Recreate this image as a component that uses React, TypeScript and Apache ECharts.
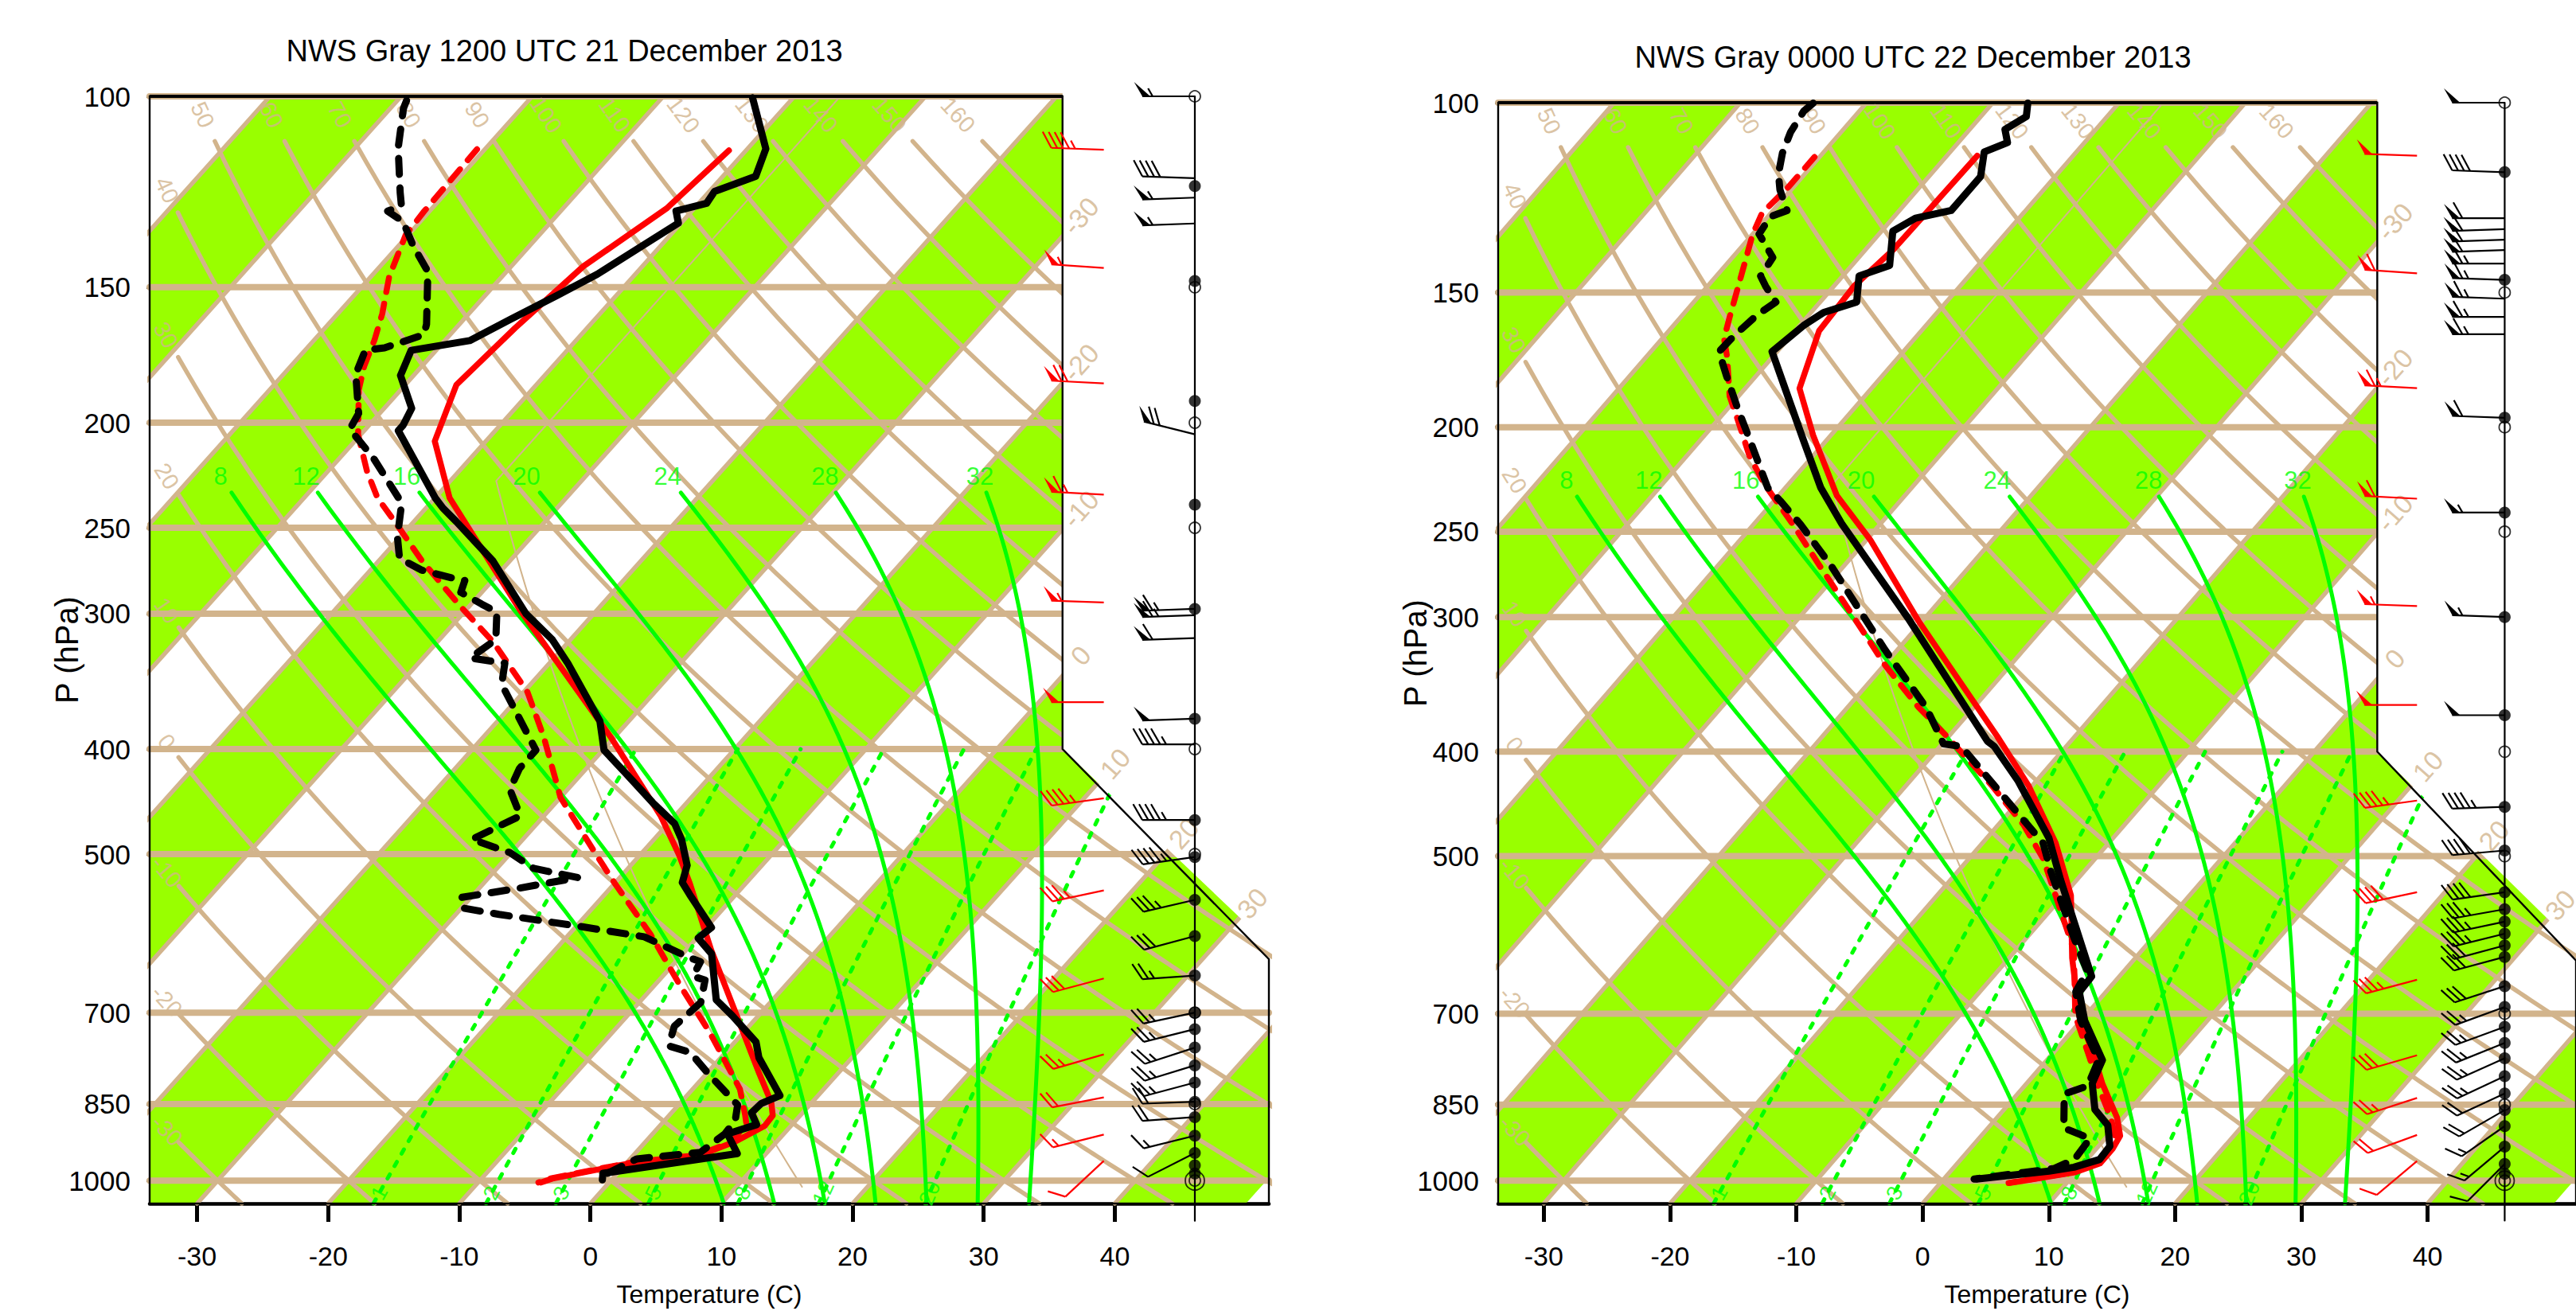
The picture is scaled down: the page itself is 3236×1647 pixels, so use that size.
import React, { useEffect, useRef } from "react";
import * as echarts from "echarts";

// ------------------------------------------------------------------ data
const PANEL_TITLES = ["NWS Gray 1200 UTC 21 December 2013", "NWS Gray 0000 UTC 22 December 2013"];
const PRESSURE_LABELS = [100, 150, 200, 250, 300, 400, 500, 700, 850, 1000];
const TEMP_LABELS = [-30, -20, -10, 0, 10, 20, 30, 40];
const ISOBARS = [100, 150, 200, 250, 300, 400, 500, 700, 850, 1000];
const ISOTHERMS = [-110, -100, -90, -80, -70, -60, -50, -40, -30, -20, -10, 0, 10, 20, 30, 40];
const ISOTHERM_LABELS = [-30, -20, -10, 0, 10, 20, 30];
const GREEN_BAND_STARTS = [-120, -100, -80, -60, -40, -20, 0, 20, 40];
const DRY_ADIABATS = [-30, -20, -10, 0, 10, 20, 30, 40, 50, 60, 70, 80, 90, 100, 110, 120, 130, 140, 150, 160];
const MOIST_ADIABATS = [8, 12, 16, 20, 24, 28, 32];
const MIXING_RATIOS = [1, 2, 3, 5, 8, 12, 20];

// 1200 UTC observed temperature
const obs12TP = [100.3, 111.8, 118.5, 122.4, 125.5, 127.6, 130.9, 145.9, 152.6, 160.4, 168, 171.5, 180.9, 194.0, 201.1, 203.4, 234.6, 239.8, 246.6, 268.2, 299.9, 317.0, 333.3, 376.9, 400.9, 421.5, 448.2, 468.6, 484.5, 512, 531, 544.9, 584.3, 597.5, 617.8, 651.5, 681.3, 704.5, 744.9, 770.3, 835.0, 849.1, 866.0, 888.0, 905.6, 944.3, 984.8, 998.6];
const obs12T = [-63.1, -58.6, -57.5, -59.6, -59.4, -61.2, -60.2, -62.9, -64.5, -66.4, -68.1, -71.9, -71.0, -67.9, -67.4, -67.4, -60.0, -58.7, -56.8, -51.3, -45.2, -41.4, -38.6, -32.2, -29.9, -26.6, -22.6, -19.5, -17.9, -15.7, -14.9, -13.5, -9.6, -9.9, -7.8, -5.9, -4.3, -2.0, 1.6, 2.9, 7.1, 6.2, 6.1, 7.3, 5.7, 7.8, -1.1, -0.7];
// 1200 UTC observed dewpoint
const obs12TdP = [100.9, 102.6, 111.6, 122.7, 126.2, 127.6, 130.5, 137.3, 145.1, 162.3, 165.9, 170.6, 171.5, 174.4, 180.4, 196.1, 202.8, 207.4, 215.7, 234.6, 237.2, 255.0, 266.7, 273.5, 278.0, 279.6, 286.7, 294.0, 299.0, 317.0, 329.6, 333.3, 348.6, 400.9, 416.8, 435.8, 460.9, 484.5, 498.3, 515.3, 525.5, 537.3, 548.0, 560.3, 568.2, 582.7, 595.9, 623.0, 628.3, 647.9, 653.4, 685.1, 720.3, 751.2, 761.7, 796.5, 837.4, 851.5, 880.9, 905.6, 941.9, 955.0, 990.2];
const obs12Td = [-89.3, -89.0, -86.7, -83.5, -82.5, -83.2, -81.3, -78.9, -76.0, -72.5, -72.0, -74.1, -75.4, -75.1, -74.5, -71.6, -71.2, -69.8, -67.4, -62.8, -62.2, -60.2, -58.6, -56.1, -53.3, -52.1, -51.6, -49.2, -47.5, -45.7, -46.4, -43.4, -42.2, -35.1, -35.1, -34.4, -31.8, -33.9, -30.1, -27.2, -23.2, -26.9, -30.7, -30.0, -26.7, -19.8, -14.1, -9.2, -8.1, -7.7, -6.5, -5.3, -5.7, -4.8, -2.7, 0.1, 3.4, 4.5, 5.4, 5.5, 4.9, 0.5, -1.0];
// 1200 UTC model temperature / dewpoint
const mod12TP = [112.2, 126.9, 143.5, 163.6, 184.5, 208.0, 234.6, 298.1, 389.8, 460.9, 501.1, 532.8, 612.7, 796.5, 847.1, 870.9, 890.5, 920.8, 947.0, 963.0, 995.7, 1004.1];
const mod12T = [-61.3, -62.1, -64.5, -65.5, -66.1, -63.9, -58.9, -45.8, -30.3, -21.1, -17.0, -14.2, -8.1, 4.0, 6.9, 7.9, 8.0, 6.8, 5.1, 0.4, -4.6, -5.2];
const mod12TdP = [111.9, 127.6, 134.2, 146.7, 158.7, 167.8, 177.4, 186.5, 205.1, 221.8, 234.6, 245.3, 268.2, 294.8, 318.8, 354.4, 389.8, 443.2, 501.1, 532.8, 592.6, 658.8, 732.5, 823.5, 870.9, 885.1, 920.8, 947.0, 963.0, 995.7, 1004.1];
const mod12Td = [-80.6, -80.4, -80.2, -78.6, -76.6, -75.4, -74.4, -73.2, -70.2, -67.0, -64.4, -61.8, -56.7, -50.8, -45.7, -39.7, -35.4, -30.0, -23.3, -19.9, -13.8, -8.2, -2.4, 3.6, 5.8, 6.4, 6.6, 4.9, 0.2, -4.8, -5.4];

// 0000 UTC observed temperature / dewpoint
const obs00TP = [100.1, 103.0, 105.9, 108.9, 111.1, 117.1, 125.9, 128.0, 131.6, 141.6, 144.8, 153.1, 156.5, 161.0, 170.2, 205.8, 227.6, 246.1, 300.9, 391.1, 395.5, 425.3, 480.8, 525.8, 646.4, 668.4, 710.7, 772.9, 812.6, 859.0, 888.4, 929.0, 955.6, 971.7, 979.8, 996.4];
const obs00T = [-67.2, -66.4, -67.2, -66.1, -67.3, -65.9, -65.9, -68.2, -69.1, -67.0, -68.7, -67.1, -69.0, -69.7, -70.4, -61.8, -57.2, -53.0, -41.3, -26.6, -25.7, -21.5, -15.1, -11.3, -2.2, -2.1, 0.3, 4.4, 5.2, 7.2, 9.3, 10.9, 11.0, 9.5, 7.8, 2.6];
const obs00TdP = [100.1, 101.8, 106.5, 111.4, 116.4, 120.4, 125.9, 127.6, 132.4, 139.2, 144.8, 148.0, 153.1, 157.4, 164.6, 170.2, 179.0, 191.4, 208.2, 227.6, 234.1, 246.1, 269.0, 321.7, 363.7, 393.3, 395.5, 430.0, 486.2, 517.0, 594.6, 639.3, 668, 711, 773, 817.1, 830.9, 893.5, 913.7, 955.6, 974.3, 996.4];
const obs00Td = [-84.2, -84.4, -84.0, -83.2, -82.1, -80.9, -78.9, -79.8, -79.5, -76.8, -76.5, -75.4, -73.5, -74.1, -74.5, -74.6, -72.4, -69.4, -65.5, -61.4, -59.5, -56.3, -51.0, -41.0, -33.8, -29.9, -28.3, -23.0, -15.2, -12.6, -6.3, -2.9, -2.4, 0.0, 4.1, 5.0, 3.7, 6.0, 8.8, 9.0, 8.0, 2.4];
// 0000 UTC model temperature / dewpoint
const mod00TP = [112.0, 124.5, 136.9, 148.0, 162.8, 184.1, 203.5, 231.4, 254.4, 302.6, 386.8, 430.0, 486.2, 543.7, 621.6, 702.9, 768.6, 812.6, 873.8, 908.6, 934.4, 963.6, 982.5, 1004.8];
const mod00T = [-67.6, -67.7, -67.8, -68.4, -68.1, -65.7, -61.4, -55.4, -49.7, -40.3, -26.2, -20.3, -14.2, -9.4, -5.0, -0.5, 3.6, 6.0, 9.5, 11.0, 11.3, 11.3, 9.9, 5.5];
const mod00TdP = [112.3, 119.7, 126.6, 132.4, 146.4, 158.3, 165.5, 172.1, 187.2, 195.7, 212.8, 226.3, 246.1, 267.6, 295.9, 332.6, 363.7, 386.8, 430.0, 467.6, 502.8, 611.3, 702.9, 768.6, 812.6, 873.8, 908.6, 934.4, 963.6, 982.5, 1004.8];
const mod00Td = [-80.4, -80.4, -80.7, -80.0, -77.8, -76.1, -75.1, -73.6, -70.7, -68.7, -65.0, -61.8, -56.9, -52.2, -46.5, -39.9, -34.4, -30.2, -23.2, -18.0, -14.1, -5.4, -0.8, 3.2, 5.6, 9.0, 10.6, 11.0, 11.0, 9.7, 5.4];

// winds (pressure hPa, direction deg, speed kt)
const obs12WindP = [100, 119, 124, 131, 205, 297, 301, 316, 375, 396, 465, 503, 551, 595, 647, 700, 725, 754, 783, 812, 846, 874, 909, 943];
const obs12WindDir = [270, 272, 268, 268, 284, 268, 268, 268, 268, 270, 270, 262, 257, 255, 266, 258, 256, 252, 253, 255, 268, 266, 256, 243];
const obs12WindSpd = [55, 40, 55, 55, 70, 65, 65, 60, 50, 45, 45, 45, 35, 30, 25, 25, 25, 25, 25, 25, 20, 20, 15, 10];
const obs12DotP = [121, 148, 191, 238, 297, 375, 465, 503, 551, 595, 647, 700, 725, 754, 783, 812, 846, 874, 909, 943, 968, 985];
const mod12WindP = [112, 144, 184, 233, 293, 362, 444, 540, 651, 765, 838, 907, 959];
const mod12WindDir = [272, 274, 273, 273, 272, 270, 262, 258, 255, 254, 259, 256, 227];
const mod12WindSpd = [45, 55, 70, 65, 55, 50, 45, 35, 30, 25, 20, 15, 10];

const obs00WindP = [100, 116, 128, 131, 134, 137, 141, 146, 152, 158, 164, 196, 240, 300, 370, 450, 494, 540, 560, 575, 590, 605, 620, 660, 690, 720, 745, 770, 800, 830, 860, 890, 930, 965];
const obs00WindDir = [270, 272, 270, 268, 268, 268, 270, 272, 272, 270, 270, 272, 270, 272, 270, 268, 265, 262, 260, 258, 256, 255, 255, 252, 250, 250, 248, 246, 245, 245, 240, 235, 230, 225];
const obs00WindSpd = [50, 40, 60, 60, 60, 60, 65, 65, 65, 65, 65, 60, 55, 55, 50, 45, 40, 40, 35, 35, 35, 30, 30, 30, 25, 25, 25, 25, 25, 20, 20, 15, 15, 10];
const obs00DotP = [116, 146, 196, 240, 300, 370, 450, 494, 540, 560, 575, 590, 605, 620, 660, 690, 720, 745, 770, 800, 830, 860, 890, 930, 965, 985];
const mod00WindP = [112, 144, 184, 233, 293, 362, 444, 540, 651, 765, 838, 907, 959];
const mod00WindDir = [272, 274, 273, 273, 272, 270, 262, 258, 255, 254, 252, 250, 230];
const mod00WindSpd = [50, 60, 65, 60, 55, 50, 45, 40, 35, 30, 25, 20, 10];
const MANDATORY_P = [100, 150, 200, 250, 400, 500, 700, 850, 1000];

// ------------------------------------------------------------------ skew-T geometry
const FONT = "'Liberation Sans', Arial, Helvetica, sans-serif";
const TAN = "#d2b48c";
const FILL = "#99ff00";
const LIME = "#00ff00";
const skewY = (p: number) => 132.182 - 44.061 * Math.log10(p);
const skewX = (t: number, y: number) => 0.54 * t + 0.90692 * y;
const YMIN = skewY(1050);
const YMAX = skewY(100);
const XMIN = -19.0;
const XMAX = 27.1;
const CUT_X = 18.6;
const CUT_YTOP = skewY(400);
const CUT_YBOT = 9.0;
const GRID_W = 1406;
const GRID_H = 1404;
const PPX = GRID_W / (XMAX - XMIN);
const PPY = GRID_H / (YMAX - YMIN);
const STAFF_X = 24.05;
const MODEL_BARB_X = 20.3;

const pt = (t: number, p: number) => {
  const y = skewY(p);
  return [skewX(t, y), y];
};

function esat(tc: number) {
  return 6.112 * Math.exp((17.67 * tc) / (tc + 243.5));
}
function tdFromE(e: number) {
  const l = Math.log(e / 6.112);
  return (243.5 * l) / (17.67 - l);
}
function moistLapse(tK: number, p: number) {
  const Rd = 287.04, cp = 1005.7, Lv = 2.501e6, eps = 0.622;
  const e = esat(tK - 273.15);
  const rs = (eps * e) / (p - e);
  const num = (Rd * tK + Lv * rs) / p;
  const den = cp + (Lv * Lv * rs * eps) / (Rd * tK * tK);
  return num / den;
}
function integrateMoist(thetaW: number, pEnd: number) {
  const out: number[][] = [];
  let t = thetaW + 273.15;
  let p = 1000;
  const dir = pEnd < 1000 ? -1 : 1;
  while (dir < 0 ? p > pEnd + 1e-6 : p < pEnd - 1e-6) {
    const step = dir < 0 ? Math.max(-4, pEnd - p) : Math.min(4, pEnd - p);
    const k1 = moistLapse(t, p);
    const k2 = moistLapse(t + k1 * step, p + step);
    t += 0.5 * (k1 + k2) * step;
    p += step;
    out.push([p, t - 273.15]);
  }
  return out;
}
// ICAO standard atmosphere (thin reference curve)
function standardAtmosphere() {
  const out: number[][] = [];
  for (let p = 1013.25; p >= 100; p -= p > 240 ? 10 : 20) {
    const tK = p > 226.32 ? 288.15 * Math.pow(p / 1013.25, 0.190263) : 216.65;
    out.push(pt(tK - 273.15, p));
  }
  out.push(pt(216.65 - 273.15, 226.32));
  out.sort((a, b) => a[1] - b[1]);
  out.push(pt(216.65 - 273.15, 100));
  return out;
}

function clipPolyRect(pts: number[][], x0: number, x1: number, y0: number, y1: number) {
  const clipEdge = (poly: number[][], inside: (q: number[]) => boolean, inter: (a: number[], b: number[]) => number[]) => {
    const out: number[][] = [];
    for (let i = 0; i < poly.length; i++) {
      const a = poly[i], b = poly[(i + 1) % poly.length];
      const ia = inside(a), ib = inside(b);
      if (ia && ib) out.push(b);
      else if (ia && !ib) out.push(inter(a, b));
      else if (!ia && ib) { out.push(inter(a, b)); out.push(b); }
    }
    return out;
  };
  const ix = (x: number) => (a: number[], b: number[]) => { const t = (x - a[0]) / (b[0] - a[0]); return [x, a[1] + t * (b[1] - a[1])]; };
  const iy = (y: number) => (a: number[], b: number[]) => { const t = (y - a[1]) / (b[1] - a[1]); return [a[0] + t * (b[0] - a[0]), y]; };
  let p = pts;
  p = clipEdge(p, (q) => q[0] >= x0, ix(x0)); if (!p.length) return p;
  p = clipEdge(p, (q) => q[0] <= x1, ix(x1)); if (!p.length) return p;
  p = clipEdge(p, (q) => q[1] >= y0, iy(y0)); if (!p.length) return p;
  p = clipEdge(p, (q) => q[1] <= y1, iy(y1));
  return p;
}

const screenAngle = (a: number[], b: number[]) => {
  const dx = (b[0] - a[0]) * PPX;
  const dy = (b[1] - a[1]) * PPY;
  return (Math.atan2(dy, dx) * 180) / Math.PI;
};

function dryAdiabat(theta: number) {
  const th = theta + 273.15;
  const line: number[][] = [];
  let label: any = null;
  let ended = false;
  for (let p = 1050; p >= 100; p -= 1) {
    const t = th * Math.pow(p / 1000, 0.2857) - 273.15;
    const [x, y] = pt(t, p);
    if (!ended) {
      if (p <= 110 || x <= XMIN + 1.2) { ended = true; line.push([x, y]); }
      else if (p % 5 === 0) line.push([x, y]);
    }
    if (p <= 104 || x <= XMIN + 0.72) {
      const t2 = th * Math.pow((p + 6) / 1000, 0.2857) - 273.15;
      const b = pt(t2, p + 6);
      label = { x, y, rot: screenAngle([x, y], b) };
      break;
    }
  }
  return { line, label };
}

function moistAdiabat(tw: number) {
  const up = integrateMoist(tw, 224);
  const down = integrateMoist(tw, 1050);
  const all = [...down.reverse(), [1000, tw], ...up.filter((q) => q[0] >= 230 - 1e-6)];
  const line = all.map((q) => pt(q[1], q[0]));
  const top = up[up.length - 1];
  const lp = pt(top[1], top[0]);
  return { line, label: { x: lp[0], y: lp[1] } };
}

function mixingLine(w: number) {
  const line: number[][] = [];
  for (let p = 1050; p >= 400; p -= 10) {
    const e = (w * p) / (622 + w);
    line.push(pt(tdFromE(e), p));
  }
  const pl = 1027;
  const a = pt(tdFromE((w * pl) / (622 + w)), pl);
  const b = pt(tdFromE((w * (pl - 20)) / (622 + w)), pl - 20);
  return { line, label: { x: a[0], y: a[1], rot: screenAngle(a, b) } };
}

function isothermLabel(t: number) {
  let y = (CUT_X - 0.54 * t) / 0.90692;
  if (y > YMAX) return null;
  if (y < CUT_YTOP) {
    const k = (XMAX - CUT_X) / (CUT_YTOP - CUT_YBOT);
    y = (CUT_X + k * CUT_YTOP - 0.54 * t) / (0.90692 + k);
    if (y < CUT_YBOT) return null;
  }
  const x = skewX(t, y) + 0.75;
  const yy = y + 0.75 / 0.90692;
  return { x, y: yy, rot: screenAngle([0, 0], [0.90692, 1]) };
}

function barbChildren(sx: number, sy: number, dir: number, spd: number, color: string) {
  const L = 66, FL = 23, SP = 7.5, PW = 10;
  const r = (dir * Math.PI) / 180;
  const ux = Math.sin(r), uy = -Math.cos(r);
  const c = Math.cos(Math.PI / 3), s = Math.sin(Math.PI / 3);
  const fx = ux * c - uy * s, fy = ux * s + uy * c;
  const tx = sx + ux * L, ty = sy + uy * L;
  const ch: any[] = [{ type: "line", shape: { x1: sx, y1: sy, x2: tx, y2: ty }, style: { stroke: color, lineWidth: 2.2 } }];
  let v = Math.round(spd / 5) * 5;
  let pos = 0;
  while (v >= 50) {
    const ax = tx - ux * pos, ay = ty - uy * pos;
    const bx = tx - ux * (pos + PW), by = ty - uy * (pos + PW);
    ch.push({ type: "polygon", shape: { points: [[ax, ay], [bx, by], [ax + fx * FL * 0.9, ay + fy * FL * 0.9]] }, style: { fill: color } });
    pos += PW + 3;
    v -= 50;
  }
  while (v >= 10) {
    const ax = tx - ux * pos, ay = ty - uy * pos;
    ch.push({ type: "line", shape: { x1: ax, y1: ay, x2: ax + fx * FL, y2: ay + fy * FL }, style: { stroke: color, lineWidth: 2.2 } });
    pos += SP;
    v -= 10;
  }
  if (v >= 5) {
    if (pos === 0) pos = SP;
    const ax = tx - ux * pos, ay = ty - uy * pos;
    ch.push({ type: "line", shape: { x1: ax, y1: ay, x2: ax + fx * FL * 0.5, y2: ay + fy * FL * 0.5 }, style: { stroke: color, lineWidth: 2.2 } });
  }
  return ch;
}

// ------------------------------------------------------------------ series
function lineSeries(gi: number, data: number[][], color: string, width: number, z: number, dash?: number[] | string, clip = true) {
  return {
    type: "line", xAxisIndex: gi, yAxisIndex: gi, data, showSymbol: false, symbol: "none", silent: true,
    lineStyle: { color, width, type: dash || "solid", cap: "round", join: "round" },
    z, clip, animation: false,
  };
}
function labelSeries(gi: number, items: any[], color: string, fontSize: number, z = 6) {
  return {
    type: "scatter", xAxisIndex: gi, yAxisIndex: gi, symbol: "circle", symbolSize: 1, silent: true, clip: false, z,
    itemStyle: { color: "rgba(0,0,0,0)" },
    data: items.map((it) => ({
      value: [it.x, it.y],
      label: { show: true, position: "inside", formatter: it.text, rotate: it.rot || 0, color, fontSize, fontFamily: FONT, align: "center", verticalAlign: "middle" },
    })),
  };
}
const profile = (P: number[], T: number[]) => P.map((p, k) => pt(T[k], p));

function panelSeries(gi: number, d: any) {
  const s: any[] = [];
  s.push({
    type: "custom", xAxisIndex: gi, yAxisIndex: gi, silent: true, z: 1, clip: false,
    data: GREEN_BAND_STARTS.map((t) => [t, 0]),
    renderItem: (params: any, api: any) => {
      const t = api.value(0);
      const poly = clipPolyRect(
        [[skewX(t, YMIN), YMIN], [skewX(t + 10, YMIN), YMIN], [skewX(t + 10, YMAX), YMAX], [skewX(t, YMAX), YMAX]],
        XMIN, XMAX, YMIN, YMAX
      );
      if (poly.length < 3) return null;
      return { type: "polygon", shape: { points: poly.map((q) => api.coord(q)) }, style: { fill: FILL } };
    },
  });
  ISOBARS.forEach((p) => s.push(lineSeries(gi, [[XMIN, skewY(p)], [XMAX, skewY(p)]], TAN, 8, 2)));
  ISOTHERMS.forEach((t) => s.push(lineSeries(gi, [[skewX(t, YMIN), YMIN], [skewX(t, YMAX), YMAX]], TAN, 5.5, 2)));
  const dryLabels: any[] = [];
  DRY_ADIABATS.forEach((th) => {
    const a = dryAdiabat(th);
    s.push(lineSeries(gi, a.line, TAN, 5.5, 2));
    if (a.label) dryLabels.push({ ...a.label, text: String(th) });
  });
  s.push(lineSeries(gi, standardAtmosphere(), TAN, 2, 2));
  const moistLabels: any[] = [];
  MOIST_ADIABATS.forEach((tw) => {
    const a = moistAdiabat(tw);
    s.push(lineSeries(gi, a.line, LIME, 5, 2));
    moistLabels.push({ ...a.label, text: String(tw) });
  });
  const mixLabels: any[] = [];
  MIXING_RATIOS.forEach((w) => {
    const a = mixingLine(w);
    s.push(lineSeries(gi, a.line, LIME, 5, 2, [6, 12]));
    mixLabels.push({ ...a.label, text: String(w) });
  });
  s.push({
    type: "custom", xAxisIndex: gi, yAxisIndex: gi, silent: true, z: 3, clip: false, data: [[0, 0]],
    renderItem: (params: any, api: any) => ({
      type: "polygon",
      shape: { points: [[CUT_X, YMAX + 0.4], [XMAX + 0.6, YMAX + 0.4], [XMAX + 0.6, CUT_YBOT], [CUT_X, CUT_YTOP]].map((q) => api.coord(q)) },
      style: { fill: "#ffffff" },
    }),
  });
  s.push({
    type: "custom", xAxisIndex: gi, yAxisIndex: gi, silent: true, z: 4, clip: false, data: [[0, 0]],
    renderItem: (params: any, api: any) => {
      const pts = [[XMIN, YMIN], [XMIN, YMAX], [CUT_X, YMAX], [CUT_X, CUT_YTOP], [XMAX, CUT_YBOT], [XMAX, YMIN], [XMIN, YMIN]].map((q) => api.coord(q));
      const a = api.coord([XMIN, YMAX]), b = api.coord([CUT_X, YMAX]);
      return {
        type: "group",
        children: [
          { type: "polyline", shape: { points: pts }, style: { stroke: "#000", lineWidth: 2.4, fill: null } },
          { type: "line", shape: { x1: a[0], y1: a[1], x2: b[0], y2: b[1] }, style: { stroke: "#000", lineWidth: 4 } },
        ],
      };
    },
  });
  s.push(labelSeries(gi, dryLabels, TAN, 29));
  s.push(labelSeries(gi, ISOTHERM_LABELS.map((t) => { const l = isothermLabel(t); return l ? { ...l, text: String(t) } : null; }).filter(Boolean), TAN, 34));
  s.push(labelSeries(gi, moistLabels, LIME, 31));
  s.push(labelSeries(gi, mixLabels, LIME, 27));
  s.push(lineSeries(gi, profile(d.modTP, d.modT), "#ff0000", 7.5, 7));
  s.push(lineSeries(gi, profile(d.modTdP, d.modTd), "#ff0000", 7.5, 7, [18, 15]));
  s.push(lineSeries(gi, profile(d.obsTdP, d.obsTd), "#000000", 9, 8, [20, 17]));
  s.push(lineSeries(gi, profile(d.obsTP, d.obsT), "#000000", 9, 8));
  s.push(lineSeries(gi, [[STAFF_X, YMAX], [STAFF_X, YMIN - 0.7]], "#000", 2.2, 9, undefined, false));
  const barbSeries = (P: number[], D: number[], V: number[], xs: number, color: string) => ({
    type: "custom", xAxisIndex: gi, yAxisIndex: gi, silent: true, z: 9, clip: false,
    data: P.map((p, k) => [xs, skewY(p), D[k], V[k]]),
    renderItem: (params: any, api: any) => {
      const c = api.coord([api.value(0), api.value(1)]);
      return { type: "group", children: barbChildren(c[0], c[1], api.value(2), api.value(3), color) };
    },
  });
  s.push(barbSeries(d.modWindP, d.modWindDir, d.modWindSpd, MODEL_BARB_X, "#ff0000"));
  s.push(barbSeries(d.obsWindP, d.obsWindDir, d.obsWindSpd, STAFF_X, "#000000"));
  s.push({
    type: "scatter", xAxisIndex: gi, yAxisIndex: gi, silent: true, z: 10, clip: false, symbol: "circle", symbolSize: 15,
    itemStyle: { color: "#000" }, data: d.dotP.map((p: number) => [STAFF_X, skewY(p)]),
  });
  s.push({
    type: "scatter", xAxisIndex: gi, yAxisIndex: gi, silent: true, z: 10, clip: false, symbol: "circle", symbolSize: 14,
    itemStyle: { color: "rgba(255,255,255,0)", borderColor: "#000", borderWidth: 1.8 }, data: MANDATORY_P.map((p) => [STAFF_X, skewY(p)]),
  });
  s.push({
    type: "scatter", xAxisIndex: gi, yAxisIndex: gi, silent: true, z: 10, clip: false, symbol: "circle", symbolSize: 24,
    itemStyle: { color: "rgba(255,255,255,0)", borderColor: "#000", borderWidth: 1.8 }, data: [[STAFF_X, skewY(1000)]],
  });
  return s;
}

const PANELS = [
  {
    obsTP: obs12TP, obsT: obs12T, obsTdP: obs12TdP, obsTd: obs12Td, modTP: mod12TP, modT: mod12T, modTdP: mod12TdP, modTd: mod12Td,
    obsWindP: obs12WindP, obsWindDir: obs12WindDir, obsWindSpd: obs12WindSpd, dotP: obs12DotP,
    modWindP: mod12WindP, modWindDir: mod12WindDir, modWindSpd: mod12WindSpd,
  },
  {
    obsTP: obs00TP, obsT: obs00T, obsTdP: obs00TdP, obsTd: obs00Td, modTP: mod00TP, modT: mod00T, modTdP: mod00TdP, modTd: mod00Td,
    obsWindP: obs00WindP, obsWindDir: obs00WindDir, obsWindSpd: obs00WindSpd, dotP: obs00DotP,
    modWindP: mod00WindP, modWindDir: mod00WindDir, modWindSpd: mod00WindSpd,
  },
];
const GRID_POS = [
  { left: 188, top: 121 },
  { left: 1882, top: 129 },
];
const TITLE_POS = [
  { x: 704, y: 40 },
  { x: 2398, y: 48 },
];

export default function App() {
  const ref = useRef<HTMLDivElement>(null);
  useEffect(() => {
    if (!ref.current) return;
    const chart = echarts.init(ref.current, undefined, { renderer: "svg" });
    const option: any = {
      animation: false,
      backgroundColor: "#ffffff",
      title: PANEL_TITLES.map((t, i) => ({
        text: t, left: TITLE_POS[i].x, top: TITLE_POS[i].y, textAlign: "center",
        textStyle: { fontSize: 38, fontWeight: "normal", fontFamily: FONT, color: "#000" },
      })),
      grid: GRID_POS.map((g) => ({ left: g.left, top: g.top, width: GRID_W, height: GRID_H })),
      xAxis: GRID_POS.map((g, i) => ({
        type: "value", gridIndex: i, min: XMIN, max: XMAX,
        axisLine: { show: true, onZero: false, lineStyle: { color: "#000", width: 4.5 } },
        splitLine: { show: false },
        axisTick: { show: true, inside: false, length: 23, customValues: TEMP_LABELS.map((t) => skewX(t, YMIN)), lineStyle: { color: "#000", width: 5 } },
        axisLabel: {
          show: true, customValues: TEMP_LABELS.map((t) => skewX(t, YMIN)), margin: 49, fontSize: 34, fontFamily: FONT, color: "#000",
          formatter: (v: number) => String(Math.round((v - 0.90692 * YMIN) / 0.54)),
        },
        name: "Temperature (C)", nameLocation: "middle", nameGap: 98, nameMoveOverlap: false,
        nameTextStyle: { fontSize: 32, fontFamily: FONT, color: "#000" },
      })),
      yAxis: GRID_POS.map((g, i) => ({
        type: "value", gridIndex: i, min: YMIN, max: YMAX,
        axisLine: { show: true, onZero: false, lineStyle: { color: "#000", width: 2 } },
        splitLine: { show: false },
        axisTick: { show: true, length: 4, customValues: PRESSURE_LABELS.map(skewY), lineStyle: { color: "#000", width: 3 } },
        axisLabel: {
          show: true, customValues: PRESSURE_LABELS.map(skewY), margin: 24, fontSize: 35, fontFamily: FONT, color: "#000",
          formatter: (v: number) => String(Math.round(Math.pow(10, (132.182 - v) / 44.061))),
        },
        name: "P (hPa)", nameLocation: "middle", nameGap: 84, nameRotate: 90, nameMoveOverlap: false,
        nameTextStyle: { fontSize: 40, fontFamily: FONT, color: "#000" },
      })),
      series: [...panelSeries(0, PANELS[0]), ...panelSeries(1, PANELS[1])],
    };
    chart.setOption(option);
    return () => chart.dispose();
  }, []);
  return <div ref={ref} style={{ position: "absolute", left: 0, top: 0, width: 3236, height: 1647, background: "#fff" }} />;
}
